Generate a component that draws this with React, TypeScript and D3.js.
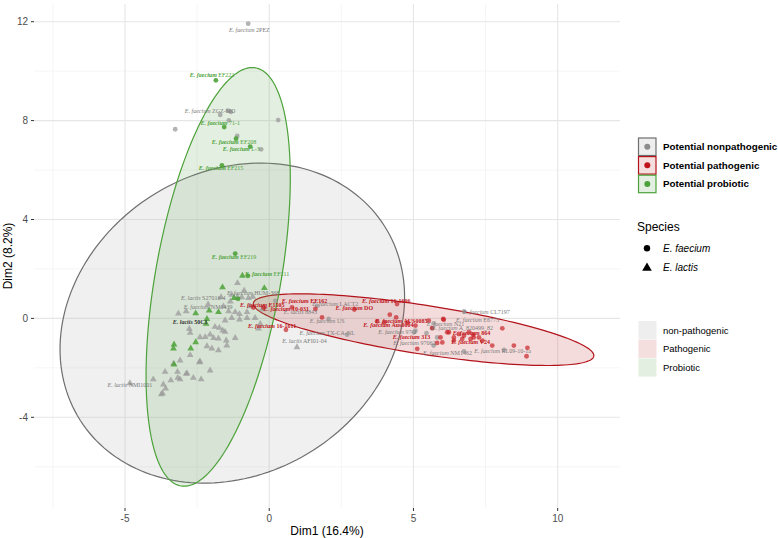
import React from "react";
import * as d3 from "d3";

// ---------- data (Dim1, Dim2) ----------
const nonpathFaeciumX = [-0.73, -3.26, -1.7, -1.43, -1.33, -1.4, -1.11, -0.28, 0.31, 1.66, 2.06, 2.7, 6.75, 5.7, 5.65, 5.45, 5.7, 5.07, 8.14, 5.01, 5.82, 6.75, 0.21];
const nonpathFaeciumY = [11.92, 7.65, 8.23, 8.4, 8.35, 8.01, 7.38, 6.84, 8.02, 0.51, -0.02, -0.66, 0.28, -0.2, -0.4, -0.6, -1.1, -0.5, -1.27, -0.56, -0.77, -1.33, 0.71];

const nonpathLactisX = [-1.1, -0.87, -1.3, -1.1, -0.95, -0.72, -0.57, -3.15, -1.59, -1.41, -1.18, -1.03, -1.3, -1.53, -1.03, -0.77, -0.49, -0.31, -1.88, -1.73, -1.61, -1.53, -2.77, -2.74, -2.4, -2.22, -2.05, -1.93, -1.76, -1.49, -1.18, -2.16, -1.99, -1.76, -1.47, -3.09, -2.74, -2.42, -2.4, -2.05, -3.61, -3.18, -2.88, -2.85, -3.17, -3.09, -2.63, -2.36, -4.02, -3.41, -3.67, -3.59, -3.74, -3.7, -4.83, -0.77, -0.37, 0.96, -1.35, -1.67, -0.66, -0.24, -2.12, -2.88, -3.32];
const nonpathLactisY = [1.45, 1.15, 0.98, 0.88, 0.88, 0.85, 0.9, 0.22, 0.51, 0.31, 0.28, 0.2, 0.04, -0.06, -0.02, 0.04, 0.04, -0.2, -0.32, -0.36, -0.47, -0.52, -0.4, -0.56, -0.74, -0.73, -0.63, -0.77, -0.79, -0.87, -0.77, -1.1, -1.19, -1.27, -1.07, -1.68, -1.46, -1.75, -1.72, -2.08, -2.14, -2.14, -2.22, -2.2, -2.38, -2.44, -2.38, -2.44, -2.44, -2.48, -2.65, -2.81, -3.05, -3.0, -2.6, 0.28, -0.39, -1.14, 0.71, 0.88, 0.51, 0.39, 0.59, 0.31, -1.81];

const pathFaeciumX = [-0.55, -0.2, 0.79, 1.6, 1.83, 0.58, 2.95, 4.43, 3.74, 4.18, 4.4, 3.99, 5.07, 5.53, 6.05, 5.65, 5.13, 5.94, 6.17, 6.4, 6.57, 6.75, 6.98, 7.09, 6.23, 6.92, 7.07, 6.69, 6.4, 6.0, 5.82, 7.27, 7.39, 7.73, 8.08, 8.48, 8.95, 8.92, 6.03, 4.79];
const pathFaeciumY = [0.44, 0.44, 0.44, 0.38, 0.04, -0.46, 0.36, 0.58, -0.12, 0.15, 0.04, -0.16, -0.29, -0.09, -0.05, -0.39, -1.23, -0.77, -0.56, -0.77, -0.63, -0.7, -0.83, -0.77, -0.56, -0.56, -0.66, -0.83, -0.9, -0.97, -0.99, -0.77, -0.9, -1.1, -0.4, -1.1, -1.19, -1.53, -0.02, -0.17];

const probFaeciumX = [-1.85, -1.56, -1.15, -0.66, -1.64, -1.18, -0.74, -1.08];
const probFaeciumY = [9.63, 7.74, 7.27, 6.95, 6.19, 2.62, 1.72, 0.79];

const probLactisX = [-1.62, -0.93, -0.17, -2.55, -2.08, -1.76, -1.22, -2.16, -2.19, -2.55, -3.3, -3.32, -2.72, -3.3];
const probLactisY = [1.28, 1.75, 1.25, 0.23, 0.34, 0.28, 0.85, 0.0, -0.19, -0.94, -1.03, -1.19, -1.19, -1.84];

// ellipses: group, centre and covariance-like shape (data units)
const ellipseGroups = ["nonpath", "path", "prob"];
const ellipseCX = [-1.28, 5.35, -1.77];
const ellipseCY = [-0.19, -0.456, 1.68];
const ellipseSXX = [35.67, 34.84, 6.25];
const ellipseSYY = [41.88, 2.1, 71.7];
const ellipseSXY = [6.3, -6.19, 10.0];

// labels
const labelSpecies = [
  "E. faecium", "E. faecium", "E. faecium", "E. lactis", "E. faecium", "E. lactis", "E. lactis", "E. lactis", "E. faecium", "E. faecium", "E. faecium", "E. lactis", "E. faecium", "E. faecium", "E. faecium", "E. faecium", "E. faecium", "E. faecium", "E. faecium", "E. faecium",
  "E. faecium", "E. faecium", "E. faecium", "E. faecium", "E. faecium", "E. faecium", "E. faecium", "E. faecium", "E. faecium", "E. faecium", "E. faecium",
  "E. faecium", "E. faecium", "E. faecium", "E. faecium", "E. faecium", "E. faecium", "E. faecium",
];
const labelStrain = [
  "2PEZ", "ZGZ-MO", "HUM-368", "S27016-4", "NM1439", "50C1", "NMI1001", "AFI01-04", "US", "TX-CA-NL", "LACT2", "8843", "97-2", "97062", "N21", "A_820499_82", "E6775", "CL7197", "RL09-10-1a", "NM1462",
  "EE162", "DO", "16-1606", "10-031", "16-1611", "E1505", "AUS0085", "Aus0004", "313", "864", "V24",
  "EF222", "71-1", "EF208", "L-3", "EF215", "EF219", "EF211",
];
const labelX = [-0.69, -2.05, -0.56, -2.29, -2.12, -2.74, -4.83, 1.22, 2.01, 2.01, 2.29, 1.08, 4.44, 5.03, 6.11, 6.7, 7.22, 7.53, 8.09, 6.18,
  1.22, 2.95, 4.06, 0.59, 0.1, -0.24, 4.58, 4.13, 4.93, 7.01, 6.98,
  -1.98, -1.7, -1.22, -0.97, -1.67, -1.22, -0.07];
const labelY = [11.68, 8.38, 1.04, 0.83, 0.48, -0.13, -2.67, -0.9, -0.09, -0.58, 0.59, 0.27, -0.54, -1.01, -0.21, -0.4, -0.05, 0.28, -1.3, -1.41,
  0.69, 0.42, 0.71, 0.4, -0.31, 0.54, -0.09, -0.25, -0.74, -0.6, -0.97,
  9.85, 7.89, 7.13, 6.87, 6.09, 2.49, 1.79];
const labelGroup = [
  "nonpath", "nonpath", "nonpath", "nonpath", "nonpath", "dark", "nonpath", "nonpath", "nonpath", "nonpath", "nonpath", "nonpath", "nonpath", "nonpath", "nonpath", "nonpath", "nonpath", "nonpath", "nonpath", "nonpath",
  "path", "path", "path", "path", "path", "path", "path", "path", "path", "path", "path",
  "prob", "prob", "prob", "prob", "prob", "prob", "prob",
];

const groupLegendLabels = ["Potential nonpathogenic", "Potential pathogenic", "Potential probiotic"];
const speciesLegendLabels = ["E. faecium", "E. lactis"];
const fillLegendLabels = ["non-pathogenic", "Pathogenic", "Probiotic"];
const xTicks = [-5, 0, 5, 10];
const yTicks = [-4, 0, 4, 8, 12];
const xMinor = [-7.5, -2.5, 2.5, 7.5];
const yMinor = [-6, -2, 2, 6, 10];

// ---------- styles ----------
const pointColor: Record<string, string> = { nonpath: "#999999", path: "#c4161c", prob: "#4ca23a" };
const keyColor: Record<string, string> = { nonpath: "#8c8c8c", path: "#c0141b", prob: "#4aa23b" };
const labelColor: Record<string, string> = { nonpath: "#7a7a7a", path: "#c0141b", prob: "#4ca23a", dark: "#333333" };
const ellStroke: Record<string, string> = { nonpath: "#6e6e6e", path: "#b2121a", prob: "#4ca23a" };
const ellFill: Record<string, string> = { nonpath: "#b3b3b3", path: "#cd5050", prob: "#73af64" };
const legendFill = ["#eeeeee", "#f5dede", "#e3efe0"];

const W = 778, H = 538;
const P = { left: 34, right: 620, top: 4, bottom: 508 };

export default function App() {
  const x = d3.scaleLinear().domain([-5, 10]).range([125, 557.7]);
  const y = d3.scaleLinear().domain([-4, 12]).range([417.3, 21.7]);

  const ellipsePath = (i: number) => {
    const a = Math.sqrt(ellipseSXX[i]);
    const b = ellipseSXY[i] / a;
    const c = Math.sqrt(ellipseSYY[i] - b * b);
    const pts: [number, number][] = d3.range(0, 361, 2).map((deg) => {
      const t = (deg * Math.PI) / 180;
      return [x(ellipseCX[i] + a * Math.cos(t)), y(ellipseCY[i] + b * Math.cos(t) + c * Math.sin(t))];
    });
    return d3.line()(pts) + "Z";
  };

  const tri = d3.symbol(d3.symbolTriangle, 20)() as string;
  const triKey = d3.symbol(d3.symbolTriangle, 40)() as string;

  const circles = (xs: number[], ys: number[], g: string, op: number) =>
    xs.map((v, i) => <circle key={g + "c" + i} cx={x(v)} cy={y(ys[i])} r={2.4} fill={pointColor[g]} fillOpacity={op} />);
  const triangles = (xs: number[], ys: number[], g: string, op: number) =>
    xs.map((v, i) => <path key={g + "t" + i} d={tri} transform={`translate(${x(v)},${y(ys[i]) + 0.6})`} fill={pointColor[g]} fillOpacity={op} />);

  return (
    <div style={{ position: "absolute", left: 0, top: 0 }}>
      <svg width={W} height={H} style={{ display: "block", background: "#fff" }}>
        <defs>
          <clipPath id="panel"><rect x={P.left} y={P.top} width={P.right - P.left} height={P.bottom - P.top} /></clipPath>
        </defs>
        {/* grid */}
        <g>
          {xMinor.map((v) => <line key={"xm" + v} x1={x(v)} x2={x(v)} y1={P.top} y2={P.bottom} stroke="#f1f1f1" strokeWidth={0.7} />)}
          {yMinor.map((v) => <line key={"ym" + v} y1={y(v)} y2={y(v)} x1={P.left} x2={P.right} stroke="#f1f1f1" strokeWidth={0.7} />)}
          {xTicks.map((v) => <line key={"xg" + v} x1={x(v)} x2={x(v)} y1={P.top} y2={P.bottom} stroke="#e6e6e6" strokeWidth={1.1} />)}
          {yTicks.map((v) => <line key={"yg" + v} y1={y(v)} y2={y(v)} x1={P.left} x2={P.right} stroke="#e6e6e6" strokeWidth={1.1} />)}
        </g>
        <g clipPath="url(#panel)">
          {ellipseGroups.map((g, i) => (
            <path key={"e" + g} d={ellipsePath(i)} fill={ellFill[g]} fillOpacity={0.2} stroke={ellStroke[g]} strokeWidth={1.2} />
          ))}
          {triangles(nonpathLactisX, nonpathLactisY, "nonpath", 0.75)}
          {circles(nonpathFaeciumX, nonpathFaeciumY, "nonpath", 0.75)}
          {circles(pathFaeciumX, pathFaeciumY, "path", 0.65)}
          {triangles(probLactisX, probLactisY, "prob", 0.85)}
          {circles(probFaeciumX, probFaeciumY, "prob", 0.9)}
          {labelSpecies.map((s, i) => {
            const g = labelGroup[i];
            const bold = g === "path" || g === "dark";
            return (
              <text key={"l" + i} x={x(labelX[i])} y={y(labelY[i])} dy="0.35em" textAnchor="middle"
                fontFamily="'Liberation Serif', serif" fontSize={6} fill={labelColor[g]} fontWeight={bold ? "bold" : "normal"}>
                <tspan fontStyle="italic" fontWeight={g === "nonpath" ? "normal" : "bold"}>{s}</tspan>
                <tspan> {labelStrain[i]}</tspan>
              </text>
            );
          })}
        </g>
        {/* axes */}
        <g fontFamily="'Liberation Sans', Arial, sans-serif">
          {xTicks.map((v) => (
            <g key={"xt" + v}>
              <line x1={x(v)} x2={x(v)} y1={P.bottom} y2={P.bottom + 3} stroke="#333" strokeWidth={1} />
              <text x={x(v)} y={P.bottom + 13.5} textAnchor="middle" fontSize={10} fill="#4d4d4d">{v}</text>
            </g>
          ))}
          {yTicks.map((v) => (
            <g key={"yt" + v}>
              <line x1={P.left - 3} x2={P.left} y1={y(v)} y2={y(v)} stroke="#333" strokeWidth={1} />
              <text x={P.left - 6} y={y(v)} dy="0.35em" textAnchor="end" fontSize={10} fill="#4d4d4d">{v}</text>
            </g>
          ))}
          <text x={(P.left + P.right) / 2} y={535} textAnchor="middle" fontSize={12} fill="#000">Dim1 (16.4%)</text>
          <text transform={`translate(12,${(P.top + P.bottom) / 2}) rotate(-90)`} textAnchor="middle" fontSize={12} fill="#000">Dim2 (8.2%)</text>
        </g>
        {/* legends */}
        <g fontFamily="'Liberation Sans', Arial, sans-serif">
          {groupLegendLabels.map((lab, i) => {
            const g = ellipseGroups[i];
            const y0 = 137.5 + i * 18.6;
            return (
              <g key={"gl" + i}>
                <rect x={638.5} y={y0 + 0.5} width={17.5} height={17.5} fill={legendFill[i]} stroke={ellStroke[g]} strokeWidth={1.2} />
                <circle cx={647.3} cy={y0 + 9.2} r={3} fill={keyColor[g]} />
                <text x={663} y={y0 + 9.2} dy="0.35em" fontSize={9.8} fontWeight="bold" fill="#000">{lab}</text>
              </g>
            );
          })}
          <text x={637} y={226.7} dy="0.35em" fontSize={12} fill="#000">Species</text>
          {speciesLegendLabels.map((lab, i) => (
            <g key={"sl" + i}>
              {i === 0
                ? <circle cx={647} cy={248.3} r={3.2} fill="#000" />
                : <path d={triKey} transform={`translate(647,${268})`} fill="#000" />}
              <text x={663} y={248.3 + i * 19} dy="0.35em" fontSize={10} fontStyle="italic" fill="#000">{lab}</text>
            </g>
          ))}
          {fillLegendLabels.map((lab, i) => (
            <g key={"fl" + i}>
              <rect x={638.5} y={321 + i * 18.7} width={18} height={18.2} fill={legendFill[i]} />
              <text x={663} y={330.3 + i * 18.7} dy="0.35em" fontSize={9.5} fill="#000">{lab}</text>
            </g>
          ))}
        </g>
      </svg>
    </div>
  );
}
